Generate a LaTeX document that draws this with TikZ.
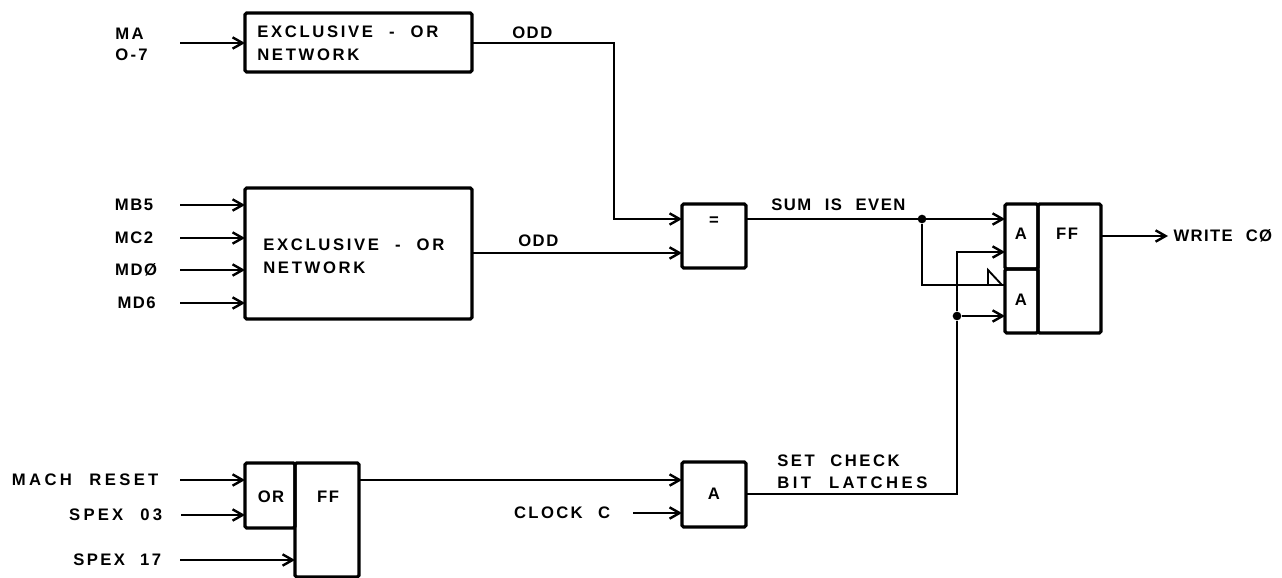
\documentclass[tikz,border=0pt]{standalone}
\usepackage{fontspec}
\setmainfont[LetterSpace=9,WordSpace=2.2]{Liberation Sans}
\usetikzlibrary{positioning, arrows.meta}

\tikzset{
    block/.style={draw, line width=2.3pt, rounded corners=1.2pt, anchor=north west, inner sep=0pt, outer sep=0pt},
    wire/.style={line width=1.4pt},
    sig/.style={wire, -{Straight Barb[length=7.5pt,width=8.5pt,line width=1.8pt]}},
    lettering/.style={font=\fontsize{12.5}{14.5}\selectfont\bfseries, inner sep=0pt, align=left},
    track/.style={execute at begin node=\addfontfeature{LetterSpace=#1}},
    joint/.style={circle, fill, inner sep=0pt, minimum size=6.5pt}
}

\begin{document}
\begin{tikzpicture}[x=0.75pt, y=-0.75pt]
        \useasboundingbox (0,0) rectangle (1282,578);

        % Blocks
        \node[block, minimum width=170.25pt, minimum height=44.25pt] (xortop) at (245,13) {};
        \node[block, minimum width=170.25pt, minimum height=98.25pt] (xormain) at (245,188) {};
        \node[block, minimum width=48pt, minimum height=48pt] (equal) at (682,204) {};
        \node[block, minimum width=48pt, minimum height=48.75pt] (andclock) at (682,462) {};
        \node[block, minimum width=24.75pt, minimum height=48.75pt] (andup) at (1005,204) {};
        \node[block, minimum width=24.75pt, minimum height=48pt] (anddown) at (1005,269) {};
        \node[block, minimum width=47.25pt, minimum height=96.75pt] (ffwrite) at (1038,204) {};
        \node[block, minimum width=37.5pt, minimum height=48.75pt] (orreset) at (245,463) {};
        \node[block, minimum width=48pt, minimum height=85.5pt] (ffspex) at (295,463) {};

        % Text in the blocks
        \node[lettering, track=16, anchor=west] (xortoptext) at (257,43) {EXCLUSIVE - OR\\[3pt]NETWORK};
        \node[lettering, track=16, anchor=west] (xormaintext) at (263,256) {EXCLUSIVE - OR\\[3pt]NETWORK};
        \node[lettering] (equaltext) at (714,221) {=};
        \node[lettering] (andclocktext) at (714,494) {A};
        \node[lettering] (anduptext) at (1021,234) {A};
        \node[lettering] (anddowntext) at (1021,300) {A};
        \node[lettering] (ffwritetext) at (1067,234) {FF};
        \node[lettering] (orresettext) at (271,497) {OR};
        \node[lettering] (ffspextext) at (328,497) {FF};

        % Free ends of the input lines
        \coordinate (inma) at (180,43);
        \coordinate (inmb) at (180,205);
        \coordinate (inmc) at (180,238);
        \coordinate (inmd) at (180,270);
        \coordinate (inmf) at (180,303);
        \coordinate (inreset) at (180,480);
        \coordinate (inspexa) at (181,515);
        \coordinate (inspexb) at (180,560);
        \coordinate (inclock) at (633,513);
        \coordinate (outwrite) at (1168,236);

        % Labels
        \node[lettering, track=14, left=24pt of inma, yshift=-1pt] (labelma) {MA\\[1pt]O-7};
        \node[lettering, left=20pt of inmb] (labelmb) {MB5};
        \node[lettering, left=20pt of inmc] (labelmc) {MC2};
        \node[lettering, left=17pt of inmd] (labelmd) {MDØ};
        \node[lettering, left=18pt of inmf] (labelmf) {MD6};
        \node[lettering, track=20, left=16pt of inreset] (labelreset) {MACH RESET};
        \node[lettering, track=19, left=14pt of inspexa] (labelspexa) {SPEX 03};
        \node[lettering, track=14, left=14pt of inspexb] (labelspexb) {SPEX 17};
        \node[lettering, track=14, left=17pt of inclock] (labelclock) {CLOCK C};
        \node[lettering, track=8, right=4pt of outwrite] (labelwrite) {WRITE CØ};
        \node[lettering, anchor=west] (labelodda) at (512,33) {ODD};
        \node[lettering, anchor=west] (labeloddb) at (518,241) {ODD};
        \node[lettering, anchor=west] (labelsum) at (771,205) {SUM IS EVEN};
        \node[lettering, track=15, anchor=west] (labelset) at (777,461) {SET CHECK};
        \node[lettering, track=21, anchor=west] (labelbit) at (777,483) {BIT LATCHES};

        % Named points on the lines
        \coordinate (turnodd) at (614,43);
        \coordinate (eveninup) at (682,219);
        \coordinate (eveninlow) at (682,253);
        \coordinate (sumout) at (746,219);
        \coordinate (upin) at (1005,219);
        \coordinate (upclock) at (1005,252);
        \coordinate (downeven) at (1005,285);
        \coordinate (downclock) at (1005,316);
        \coordinate (clockout) at (746,494);
        \coordinate (ffout) at (359,480);
        \coordinate (andin) at (682,480);
        \node[joint] (jointsum) at (922,219) {};
        \node[joint] (jointclock) at (957,316) {};

        % Inputs
        \draw[sig] (inma) -- (inma -| xortop.west);
        \draw[sig] (inmb) -- (inmb -| xormain.west);
        \draw[sig] (inmc) -- (inmc -| xormain.west);
        \draw[sig] (inmd) -- (inmd -| xormain.west);
        \draw[sig] (inmf) -- (inmf -| xormain.west);
        \draw[sig] (inreset) -- (inreset -| orreset.west);
        \draw[sig] (inspexa) -- (inspexa -| orreset.west);
        \draw[sig] (inspexb) -- (inspexb -| ffspex.west);
        \draw[sig] (inclock) -- (inclock -| andclock.west);

        % Connections
        \draw[sig] (xortop.east |- turnodd) -- (turnodd) |- (eveninup);
        \draw[sig] (xormain.east |- eveninlow) -- (eveninlow);
        \draw[sig] (sumout) -- (upin);
        \draw[wire] (jointsum) |- (downeven);
        \draw[sig] (clockout) -| (jointclock) -- (downclock);
        \draw[sig] (jointclock) |- (upclock);
        \draw[sig] (ffout) -- (andin);
        \draw[sig] (ffwrite.east |- outwrite) -- (outwrite);

        % Wedge on the lower input
        \draw[wire] (988,285) -- (988,270) -- (1002,285);
    \end{tikzpicture}
\end{document}
